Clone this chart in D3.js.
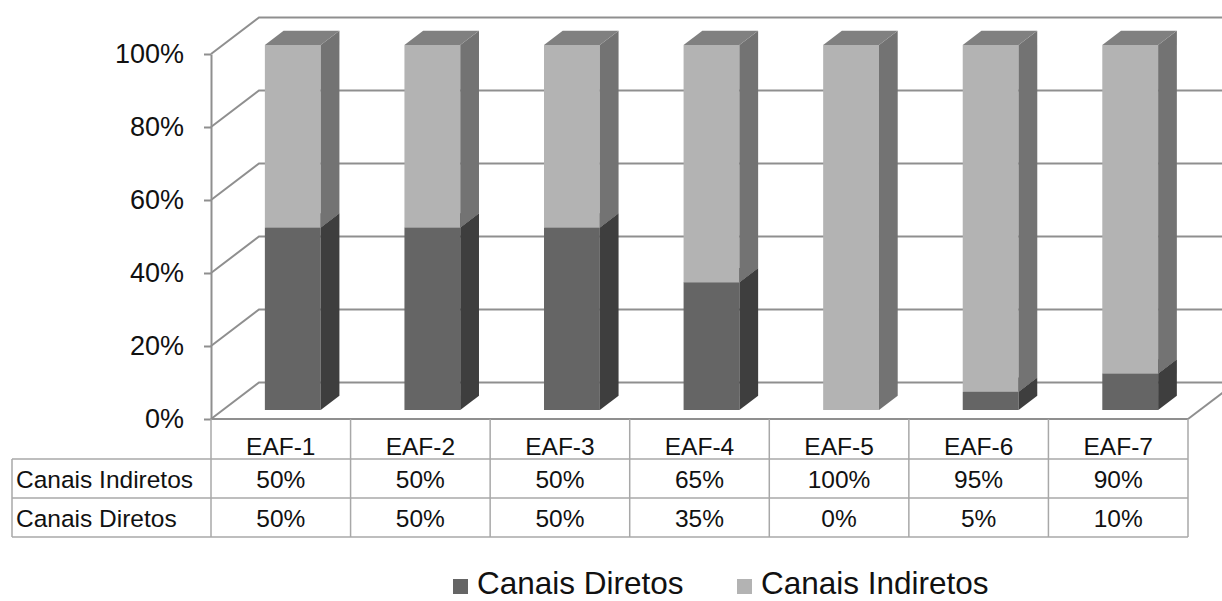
<!DOCTYPE html>
<html>
<head>
<meta charset="utf-8">
<script src="https://cdn.jsdelivr.net/npm/d3@7"></script>
<style>
  body { margin: 0; background: #fff; }
  svg { display: block; font-family: "Liberation Sans", Arial, sans-serif; }
</style>
</head>
<body>
<div id="chart-area"></div>
<script>
const categories = ['EAF-1', 'EAF-2', 'EAF-3', 'EAF-4', 'EAF-5', 'EAF-6', 'EAF-7'];
const diretos = [50, 50, 50, 35, 0, 5, 10];
const indiretos = [50, 50, 50, 65, 100, 95, 90];
const yTicks = [0, 20, 40, 60, 80, 100];
const seriesNames = ['Canais Diretos', 'Canais Indiretos'];

const width = 1222, height = 601;
const DX = 48, DY = -36.5;      // depth of the 3d box
const D0 = 0.25, D1 = 0.64;     // depth of the bars
const gridColor = '#8f8f8f';
const tableColor = '#a8a8a8';

const colors = {
    dark: {front: '#656565', side: '#3e3e3e', top: '#575757'},
    light: {front: '#b3b3b3', side: '#737373', top: '#808080'}
};

const svg = d3.select('#chart-area')
    .append('svg')
        .attr('width', width)
        .attr('height', height);

const x = d3.scaleBand()
    .domain(categories)
    .range([211, 1188])
    .paddingInner(0)
    .paddingOuter(0);

const y = d3.scaleLinear()
    .domain([0, 100])
    .range([419, 54]);

const proj = (xf, v, d) => [xf + DX * d, y(v) + DY * d];
const line = d3.line();

// walls
const walls = svg.append('g').attr('stroke', gridColor).attr('stroke-width', 2).attr('fill', 'none');
yTicks.forEach(t => {
    walls.append('path').attr('d', line([proj(211, t, 0), proj(211, t, 1), proj(1188, t, 1)]));
});
walls.append('path').attr('d', line([proj(1188, 0, 0), proj(1188, 0, 1)]));

// y axis
const yAxisCall = d3.axisLeft(y)
    .tickValues(yTicks)
    .tickFormat(d => d + '%')
    .tickSize(7)
    .tickSizeOuter(0)
    .tickPadding(20);

const yAxis = svg.append('g')
    .attr('transform', 'translate(211, 0)')
    .call(yAxisCall);
yAxis.selectAll('path, line').attr('stroke', gridColor).attr('stroke-width', 2);
yAxis.selectAll('text')
    .attr('font-size', '27px')
    .attr('font-family', '"Liberation Sans", Arial, sans-serif')
    .attr('fill', '#111');

// bars
function segment(g, xl, xr, v0, v1, c) {
    if (v1 <= v0) return;
    g.append('path').attr('fill', c.front)
        .attr('d', line([proj(xl, v0, D0), proj(xr, v0, D0), proj(xr, v1, D0), proj(xl, v1, D0)]) + 'Z');
    g.append('path').attr('fill', c.side)
        .attr('d', line([proj(xr, v0, D0), proj(xr, v0, D1), proj(xr, v1, D1), proj(xr, v1, D0)]) + 'Z');
    g.append('path').attr('fill', c.top)
        .attr('d', line([proj(xl, v1, D0), proj(xr, v1, D0), proj(xr, v1, D1), proj(xl, v1, D1)]) + 'Z');
}

const barW = x.bandwidth() * 0.4;
const bars = svg.append('g');
categories.forEach((cat, i) => {
    const xl = x(cat) + (x.bandwidth() - barW) / 2;
    const xr = xl + barW;
    segment(bars, xl, xr, 0, diretos[i], colors.dark);
    segment(bars, xl, xr, diretos[i], diretos[i] + indiretos[i], colors.light);
});

// data table
const rows = [419, 459, 498, 537];
const table = svg.append('g').attr('stroke', tableColor).attr('stroke-width', 1.5);
table.append('line').attr('x1', 211).attr('x2', 1188).attr('y1', rows[0]).attr('y2', rows[0]).attr('stroke', gridColor).attr('stroke-width', 2);
rows.slice(1).forEach(r => {
    table.append('line').attr('x1', 12).attr('x2', 1188).attr('y1', r).attr('y2', r);
});
table.append('line').attr('x1', 12).attr('x2', 12).attr('y1', rows[1]).attr('y2', rows[3]);
categories.forEach(cat => {
    table.append('line').attr('x1', x(cat)).attr('x2', x(cat)).attr('y1', rows[0]).attr('y2', rows[3]);
});
table.append('line').attr('x1', 1188).attr('x2', 1188).attr('y1', rows[0]).attr('y2', rows[3]);

const tt = svg.append('g').attr('font-size', '24.5px').attr('fill', '#111');
categories.forEach((cat, i) => {
    const cx = x(cat) + x.bandwidth() / 2;
    tt.append('text').attr('x', cx).attr('y', 455).attr('text-anchor', 'middle').text(cat);
    tt.append('text').attr('x', cx).attr('y', 488).attr('text-anchor', 'middle').text(indiretos[i] + '%');
    tt.append('text').attr('x', cx).attr('y', 527).attr('text-anchor', 'middle').text(diretos[i] + '%');
});
tt.append('text').attr('x', 16).attr('y', 488).text(seriesNames[1]);
tt.append('text').attr('x', 16).attr('y', 527).text(seriesNames[0]);

// legend
const legend = svg.append('g').attr('font-size', '31.5px').attr('fill', '#111');
[[453, colors.dark.front, seriesNames[0]], [737, colors.light.front, seriesNames[1]]].forEach(([lx, c, name]) => {
    legend.append('rect').attr('x', lx).attr('y', 579).attr('width', 15).attr('height', 15).attr('fill', c);
    legend.append('text').attr('x', lx + 24).attr('y', 594).text(name);
});
</script>
</body>
</html>
